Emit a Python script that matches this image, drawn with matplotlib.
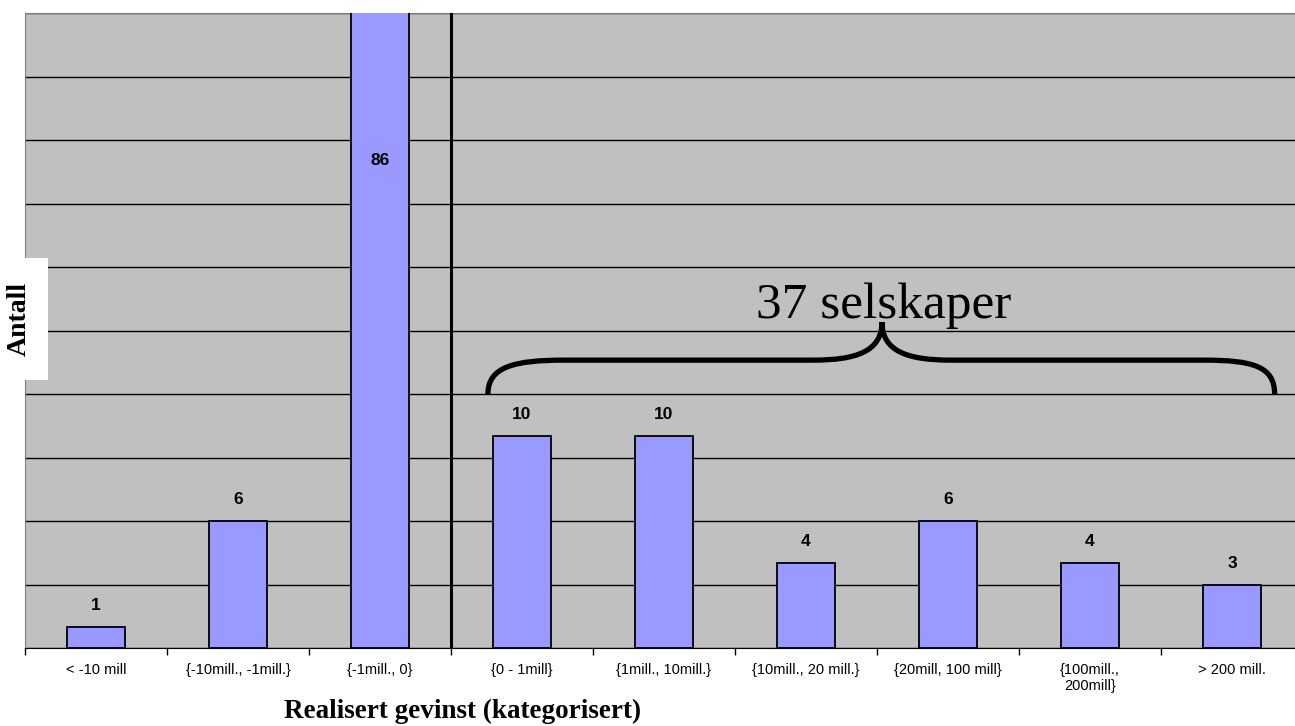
import matplotlib.pyplot as plt
from matplotlib.path import Path
from matplotlib.patches import PathPatch, Rectangle

categories = ['< -10 mill', '{-10mill., -1mill.}', '{-1mill., 0}', '{0 - 1mill}',
              '{1mill., 10mill.}', '{10mill., 20 mill.}', '{20mill, 100 mill}',
              '{100mill.,\n200mill}', '> 200 mill.']
antall = [1, 6, 86, 10, 10, 4, 6, 4, 3]
y_max = 30
brace_text = '37 selskaper'

fig = plt.figure(figsize=(12.95, 7.26), dpi=100)
ax = fig.add_axes([25 / 1295, 78 / 726, 1278 / 1295, 635 / 726])
ax.set_facecolor('#C0C0C0')

x = list(range(len(categories)))
bars = ax.bar(x, antall, width=0.41, color='#9999FF', edgecolor='black',
              linewidth=1.3, zorder=3)

ax.set_xlim(-0.5, len(categories) - 0.5)
ax.set_ylim(0, y_max)
ax.set_yticks(range(0, y_max + 1, 3))
ax.set_yticklabels([])
ax.tick_params(axis='y', length=0)
ax.grid(axis='y', color='black', linewidth=1.0, zorder=1)

# category ticks at the boundaries
ax.set_xticks([i - 0.5 for i in range(len(categories) + 1)], minor=False)
ax.set_xticklabels([])
ax.tick_params(axis='x', which='major', length=5, width=1, color='black', direction='out')
ax.set_xticks(x, minor=True)
ax.set_xticklabels(categories, minor=True, fontsize=10.5, family='Liberation Sans',
                   linespacing=1.15)
ax.tick_params(axis='x', which='minor', length=0, pad=11)

for s in ['top', 'left', 'right']:
    ax.spines[s].set_color('#808080')
ax.spines['bottom'].set_color('black')

# value labels
for xi, v in zip(x, antall):
    if v > y_max:
        ax.text(xi, 23.05, str(v), ha='center', va='center', fontsize=12.5,
                fontweight='bold', family='Liberation Sans', zorder=5)
    else:
        ax.annotate(str(v), (xi, v), xytext=(0, 10), textcoords='offset points',
                    ha='center', va='bottom', fontsize=12.5, fontweight='bold',
                    family='Liberation Sans', zorder=5)

# separator between loss and gain
ax.axvline(2.5, color='black', linewidth=2.2, zorder=4)

# curly brace over the gain categories
xl, xr, xm = 2.76, 8.30, 5.535
yb, yh, yc = 12.0, 13.6, 15.4
verts = [(xl, yb), (xl, 13.3), (2.95, yh), (3.3, yh),
         (5.05, yh),
         (5.35, yh), (xm, 14.0), (xm, yc),
         (xm, 14.0), (5.72, yh), (6.02, yh),
         (7.8, yh),
         (8.15, yh), (xr, 13.3), (xr, yb)]
codes = [Path.MOVETO, Path.CURVE4, Path.CURVE4, Path.CURVE4,
         Path.LINETO,
         Path.CURVE4, Path.CURVE4, Path.CURVE4,
         Path.CURVE4, Path.CURVE4, Path.CURVE4,
         Path.LINETO,
         Path.CURVE4, Path.CURVE4, Path.CURVE4]
ax.add_patch(PathPatch(Path(verts, codes), facecolor='none', edgecolor='black',
                       linewidth=3.8, capstyle='butt', zorder=4))
ax.text(5.55, 15.6, brace_text, ha='center', va='baseline', fontsize=37,
        family='Liberation Serif', zorder=5)

fig.text(463 / 1295, 8 / 726, 'Realisert gevinst (kategorisert)', ha='center',
         va='baseline', fontsize=19.5, fontweight='bold', family='Liberation Serif')
fig.patches.append(Rectangle((0, 346 / 726), 48 / 1295, 122 / 726,
                             transform=fig.transFigure, facecolor='white',
                             edgecolor='none', zorder=2))
fig.text(19 / 1295, 407 / 726, 'Antall', ha='center', va='center', rotation=90,
         fontsize=20, fontweight='bold', family='Liberation Serif', zorder=3)

fig.savefig('out.png', dpi=100)
